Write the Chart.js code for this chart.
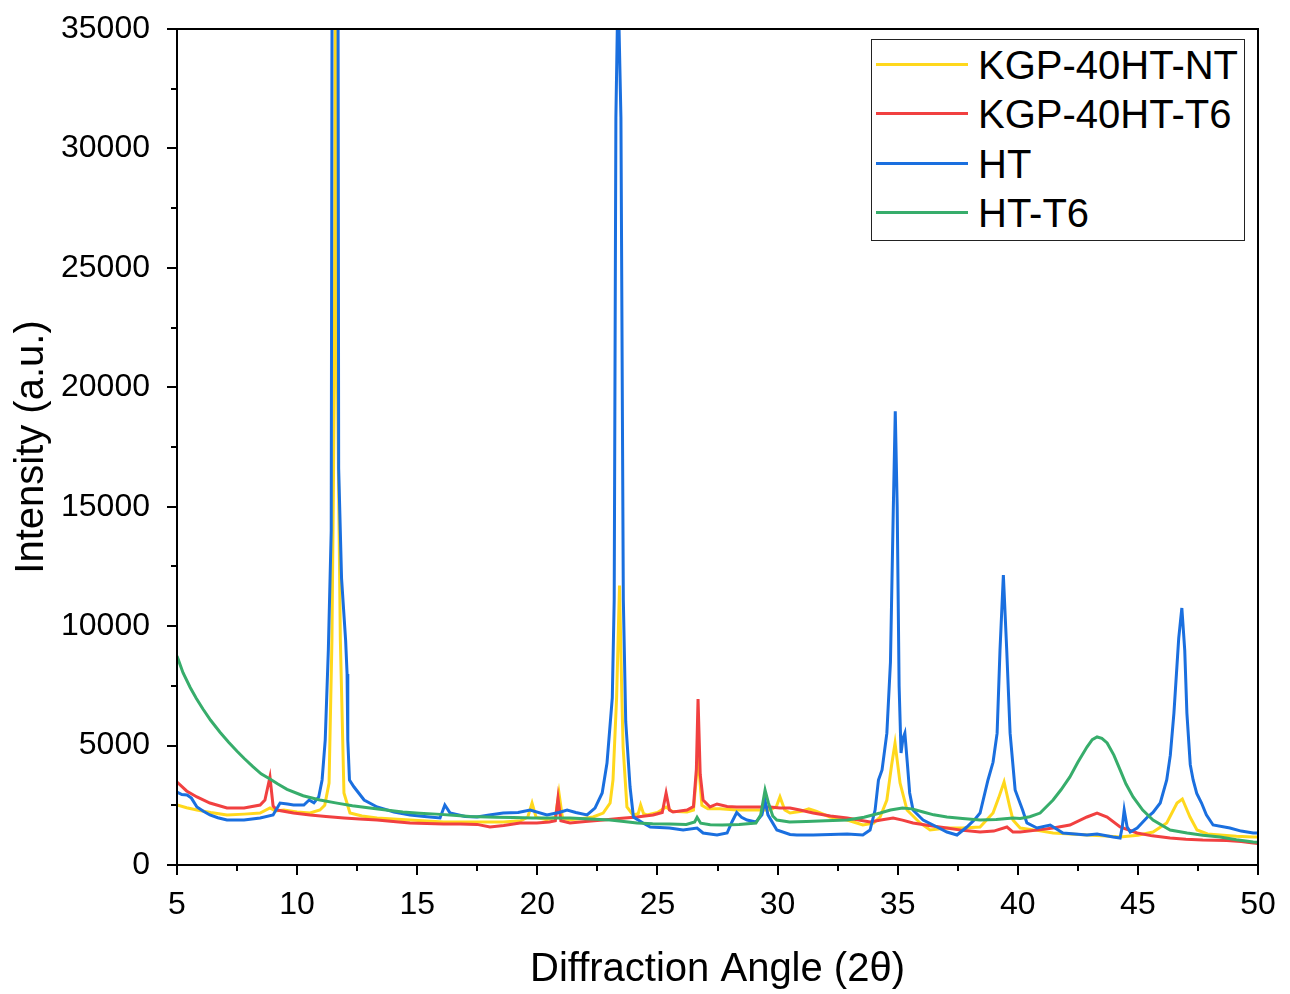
<!DOCTYPE html>
<html>
<head>
<meta charset="utf-8">
<title>XRD patterns</title>
<script src="https://cdn.jsdelivr.net/npm/chart.js@4.4.1/dist/chart.umd.min.js"></script>
<style>
  html, body { margin: 0; padding: 0; background: #fff; }
  #wrap { position: relative; width: 1290px; height: 994px; }
  #xrd { position: absolute; left: 0; top: 0; }
  #legend {
    position: absolute; left: 871px; top: 39px; width: 372px; height: 200px;
    border: 1px solid #222; background: #fff; box-sizing: content-box;
    font-family: "Liberation Sans", Arial, sans-serif; font-size: 40px; color: #000;
  }
  .row { position: absolute; left: 0; height: 40px; line-height: 40px; white-space: nowrap; }
  .row .swatch { position: absolute; left: 4px; top: 18px; width: 92px; height: 3px; }
  .row .name { position: absolute; left: 106px; top: 0; }
</style>
</head>
<body>
<div id="wrap">
  <canvas id="xrd" width="1290" height="994"></canvas>
  <div id="legend"></div>
</div>
<script>
// Diffraction angle (2θ) and intensity pairs for each sample
const patternNT = [
  [5.0,2512],[5.4,2400],[5.83,2303],[6.4,2200],[7.08,2094],[7.8,2130],[8.46,2175],[8.87,2385],
  [9.1,2260],[9.45,2303],[10.0,2220],[10.54,2175],[10.95,2303],[11.15,2500],[11.33,3430],[11.45,9420],
  [11.55,20000],[11.62,50000],[11.68,20000],[11.8,9420],[11.95,3015],[12.2,2175],[12.7,2050],[13.33,1970],
  [14.0,1930],[14.7,1885],[15.4,1840],[16.1,1800],[16.8,1800],[17.49,1800],[18.0,1800],[18.58,1800],
  [19.3,1850],[19.6,2000],[19.78,2595],[19.95,1990],[20.4,1900],[20.75,2000],[20.9,3015],[21.05,1950],
  [21.36,1900],[21.9,1950],[22.32,2010],[22.74,2175],[23.03,2595],[23.15,3560],[23.3,7000],[23.42,11700],
  [23.52,7000],[23.57,4940],[23.73,2430],[23.98,2094],[24.2,2150],[24.3,2512],[24.42,2150],[24.57,2094],
  [25.0,2200],[25.36,2430],[25.6,2250],[26.23,2220],[26.5,2300],[26.69,4520],[26.85,2500],[27.1,2350],
  [27.6,2350],[28.3,2300],[29.0,2300],[29.69,2300],[29.95,2450],[30.1,2850],[30.3,2300],[30.52,2175],
  [31.0,2250],[31.3,2350],[31.6,2250],[32.18,2010],[32.9,1885],[33.55,1675],[34.0,1750],[34.27,2010],
  [34.55,2720],[34.75,4200],[34.89,5100],[35.1,3430],[35.39,2300],[35.93,1760],[36.35,1465],[37.05,1550],
  [37.7,1550],[38.43,1590],[38.97,2175],[39.2,2800],[39.43,3475],[39.65,2500],[39.8,1885],[40.1,1550],
  [40.8,1450],[41.47,1340],[42.2,1300],[42.88,1256],[43.5,1220],[44.26,1172],[45.0,1250],[45.63,1380],
  [46.2,1760],[46.63,2595],[46.85,2763],[47.17,2010],[47.46,1465],[47.9,1300],[48.42,1256],[49.1,1200],
  [49.8,1172],[50.0,1172]
];

const patternT6 = [
  [5.0,3475],[5.4,3100],[5.83,2850],[6.37,2595],[7.08,2385],[7.79,2385],[8.46,2512],[8.66,2720],
  [8.87,3685],[9.0,2470],[9.16,2300],[9.85,2175],[10.54,2090],[11.2,2030],[11.95,1970],[12.6,1930],
  [13.33,1885],[14.0,1820],[14.7,1760],[15.4,1740],[16.1,1717],[16.8,1717],[17.49,1700],[18.03,1590],
  [18.6,1650],[19.28,1760],[19.98,1760],[20.5,1800],[20.75,1850],[20.86,2805],[20.98,1850],[21.36,1760],
  [22.0,1820],[22.74,1885],[23.4,1950],[24.15,2010],[24.82,2094],[25.2,2200],[25.36,3015],[25.5,2300],
  [25.65,2220],[26.23,2303],[26.5,2450],[26.62,4000],[26.69,6950],[26.78,3800],[26.9,2720],[27.19,2430],
  [27.48,2555],[27.9,2450],[28.3,2430],[29.0,2430],[29.69,2430],[30.1,2385],[30.52,2385],[30.93,2300],
  [31.48,2175],[32.2,2050],[32.9,1970],[33.85,1800],[34.3,1880],[34.81,1970],[35.2,1880],[35.64,1760],
  [36.3,1650],[37.05,1550],[37.7,1450],[38.43,1380],[39.0,1420],[39.55,1590],[39.8,1380],[40.1,1380],
  [40.8,1460],[41.47,1550],[42.17,1675],[42.88,2010],[43.3,2175],[43.72,2010],[44.26,1590],[44.97,1340],
  [45.6,1220],[46.34,1130],[47.0,1080],[47.7,1047],[48.7,1030],[49.3,980],[49.8,920],[50.0,900]
];

const patternHT = [
  [5.0,3055],[5.2,2950],[5.42,2930],[5.6,2800],[5.83,2430],[6.1,2250],[6.37,2094],[6.7,1980],
  [7.08,1885],[7.79,1885],[8.46,1970],[9.0,2094],[9.29,2595],[9.6,2550],[9.85,2512],[10.28,2512],
  [10.5,2720],[10.7,2600],[10.9,2850],[11.04,3560],[11.17,5230],[11.30,9000],[11.42,14000],[11.46,40000],
  [11.58,70000],[11.70,40000],[11.73,16600],[11.85,12000],[12.02,9400],[12.08,8000],[12.11,5230],[12.18,3560],
  [12.37,3265],[12.79,2720],[13.33,2430],[14.03,2220],[14.7,2094],[15.3,2030],[15.95,1970],[16.15,2512],
  [16.37,2175],[17.0,2030],[17.49,2010],[18.0,2094],[18.58,2175],[19.2,2200],[19.7,2303],[20.4,2094],
  [20.9,2200],[21.24,2303],[21.6,2200],[22.07,2094],[22.4,2385],[22.7,3015],[22.9,4270],[23.12,7000],
  [23.20,11100],[23.27,31300],[23.36,37000],[23.48,31300],[23.58,11100],[23.68,6000],[23.86,3265],[24.0,2010],
  [24.4,1760],[24.7,1590],[25.5,1550],[26.07,1465],[26.65,1550],[26.9,1340],[27.48,1256],[27.9,1340],
  [28.1,1800],[28.3,2200],[28.5,2000],[28.73,1885],[29.1,1800],[29.35,2100],[29.48,2700],[29.6,2100],
  [29.97,1465],[30.52,1280],[30.8,1256],[31.48,1256],[32.2,1280],[32.9,1300],[33.55,1256],[33.85,1465],
  [34.06,2300],[34.2,3560],[34.35,3980],[34.55,5520],[34.7,8500],[34.82,15000],[34.9,19000],[34.98,15000],
  [35.06,7500],[35.14,4690],[35.22,5300],[35.3,5520],[35.4,4300],[35.5,3015],[35.64,2303],[35.93,2010],
  [36.06,1885],[36.64,1590],[37.05,1380],[37.47,1256],[37.88,1590],[38.2,1900],[38.43,2175],[38.76,3560],
  [38.97,4300],[39.14,5520],[39.26,9000],[39.4,12140],[39.54,9000],[39.68,5520],[39.89,3140],[40.2,2300],
  [40.38,1760],[40.8,1550],[41.35,1675],[41.88,1340],[42.88,1256],[43.3,1300],[43.97,1172],[44.26,1130],
  [44.35,1600],[44.43,2303],[44.55,1600],[44.68,1380],[44.97,1550],[45.4,2010],[45.63,2200],[45.93,2595],
  [46.2,3560],[46.35,4600],[46.5,6360],[46.7,9500],[46.83,10760],[46.95,9000],[47.04,6360],[47.18,4200],
  [47.3,3560],[47.45,3000],[47.65,2595],[47.85,2100],[48.13,1675],[48.83,1550],[49.3,1420],[49.8,1340],
  [50.0,1340]
];

const patternHTT6 = [
  [5.0,8750],[5.25,8050],[5.55,7430],[5.8,6980],[6.08,6530],[6.4,6060],[6.79,5560],[7.15,5140],
  [7.5,4760],[7.8,4460],[8.16,4120],[8.5,3820],[8.87,3600],[9.2,3390],[9.58,3170],[10.25,2900],
  [10.95,2720],[11.66,2590],[12.3,2480],[13.03,2385],[13.7,2300],[14.4,2220],[15.1,2170],[15.8,2130],
  [16.5,2080],[17.2,2030],[18.3,2000],[19.0,1990],[19.8,1970],[20.6,1970],[21.36,1970],[22.2,1930],
  [23.03,1885],[23.6,1820],[24.15,1760],[24.8,1730],[25.5,1717],[26.2,1700],[26.55,1800],[26.65,2000],
  [26.8,1750],[27.2,1690],[27.7,1675],[28.4,1700],[29.1,1760],[29.3,2100],[29.48,3140],[29.62,2600],
  [29.8,2050],[29.97,1885],[30.5,1800],[31.2,1820],[32.0,1850],[32.9,1885],[33.6,2000],[34.27,2175],
  [34.7,2300],[35.2,2385],[35.6,2350],[36.06,2220],[36.5,2100],[37.05,2010],[37.7,1950],[38.43,1885],
  [39.1,1900],[39.8,1970],[40.1,1950],[40.5,2020],[40.93,2175],[41.47,2720],[41.8,3150],[42.17,3685],
  [42.5,4300],[42.88,4940],[43.1,5250],[43.3,5360],[43.5,5300],[43.72,5108],[44.0,4600],[44.26,3980],
  [44.5,3400],[44.8,2850],[45.2,2300],[45.63,1885],[46.34,1465],[47.05,1340],[47.7,1250],[48.42,1172],
  [49.1,1060],[49.8,963],[50.0,950]
];

const sampleNames = ['KGP-40HT-NT', 'KGP-40HT-T6', 'HT', 'HT-T6'];
const sampleColors = ['#FFD81C', '#F14040', '#1A6FDF', '#37AD6B'];
const samplePatterns = [patternNT, patternT6, patternHT, patternHTT6];
// later samples are painted over earlier ones
const paintOrder = [3, 2, 1, 0];

const xTickStep = 5;
const yTickStep = 5000;
const xRange = [5, 50];
const yRange = [0, 35000];

const FONT = '"Liberation Sans", Arial, sans-serif';

const datasets = sampleNames.map((name, i) => ({
  label: name,
  data: samplePatterns[i].map(([x, y]) => ({ x, y })),
  borderColor: sampleColors[i],
  backgroundColor: sampleColors[i],
  borderWidth: 3,
  pointRadius: 0,
  tension: 0,
  fill: false,
  clip: 0,
  order: paintOrder[i]
}));

// Box frame plus half-length minor ticks on the two labelled axes
const framePlugin = {
  id: 'frame',
  afterDraw(chart) {
    const { ctx, chartArea: a, scales } = chart;
    ctx.save();
    ctx.strokeStyle = '#000';
    ctx.lineWidth = 2;
    ctx.beginPath();
    for (let v = xRange[0] + xTickStep / 2; v < xRange[1]; v += xTickStep) {
      const px = Math.round(scales.x.getPixelForValue(v));
      ctx.moveTo(px, a.bottom);
      ctx.lineTo(px, a.bottom + 6);
    }
    for (let v = yRange[0] + yTickStep / 2; v < yRange[1]; v += yTickStep) {
      const py = Math.round(scales.y.getPixelForValue(v));
      ctx.moveTo(a.left, py);
      ctx.lineTo(a.left - 6, py);
    }
    ctx.stroke();
    ctx.strokeRect(a.left, a.top, a.right - a.left, a.bottom - a.top);
    ctx.restore();
  }
};

const axisGrid = {
  drawOnChartArea: false,
  drawTicks: true,
  tickLength: 10,
  tickWidth: 2,
  tickColor: '#000',
  lineWidth: 2,
  color: '#000'
};

new Chart(document.getElementById('xrd'), {
  type: 'line',
  data: { datasets },
  options: {
    responsive: false,
    animation: false,
    devicePixelRatio: 1,
    layout: { padding: { top: 29, right: 32, left: 0, bottom: 0 } },
    plugins: { legend: { display: false }, tooltip: { enabled: false } },
    scales: {
      x: {
        type: 'linear',
        min: xRange[0], max: xRange[1],
        ticks: { stepSize: xTickStep, color: '#000', font: { family: FONT, size: 32 }, padding: 11, maxRotation: 0, autoSkip: false },
        grid: axisGrid,
        border: { display: false },
        title: { display: true, text: 'Diffraction Angle (2θ)', color: '#000', font: { family: FONT, size: 40 }, padding: { top: 0, bottom: 0 } },
        afterFit(scale) {
          scale.height = 129;
          scale.paddingLeft = 0;
          scale.paddingRight = 0;
        }
      },
      y: {
        type: 'linear',
        min: yRange[0], max: yRange[1],
        ticks: { stepSize: yTickStep, color: '#000', font: { family: FONT, size: 32 }, padding: 17, callback: v => String(v) },
        grid: axisGrid,
        border: { display: false },
        title: { display: true, text: 'Intensity (a.u.)', color: '#000', font: { family: FONT, size: 40 }, padding: { top: 8, bottom: 0 } },
        afterFit(scale) {
          scale.width = 177;
          scale.paddingTop = 0;
          scale.paddingBottom = 0;
        }
      }
    }
  },
  plugins: [framePlugin]
});

// Legend box
const legend = document.getElementById('legend');
sampleNames.forEach((name, i) => {
  const row = document.createElement('div');
  row.className = 'row';
  row.style.top = (5 + i * 49.3) + 'px';
  const sw = document.createElement('div');
  sw.className = 'swatch';
  sw.style.background = sampleColors[i];
  const label = document.createElement('span');
  label.className = 'name';
  label.textContent = name;
  row.appendChild(sw);
  row.appendChild(label);
  legend.appendChild(row);
});
</script>
</body>
</html>
